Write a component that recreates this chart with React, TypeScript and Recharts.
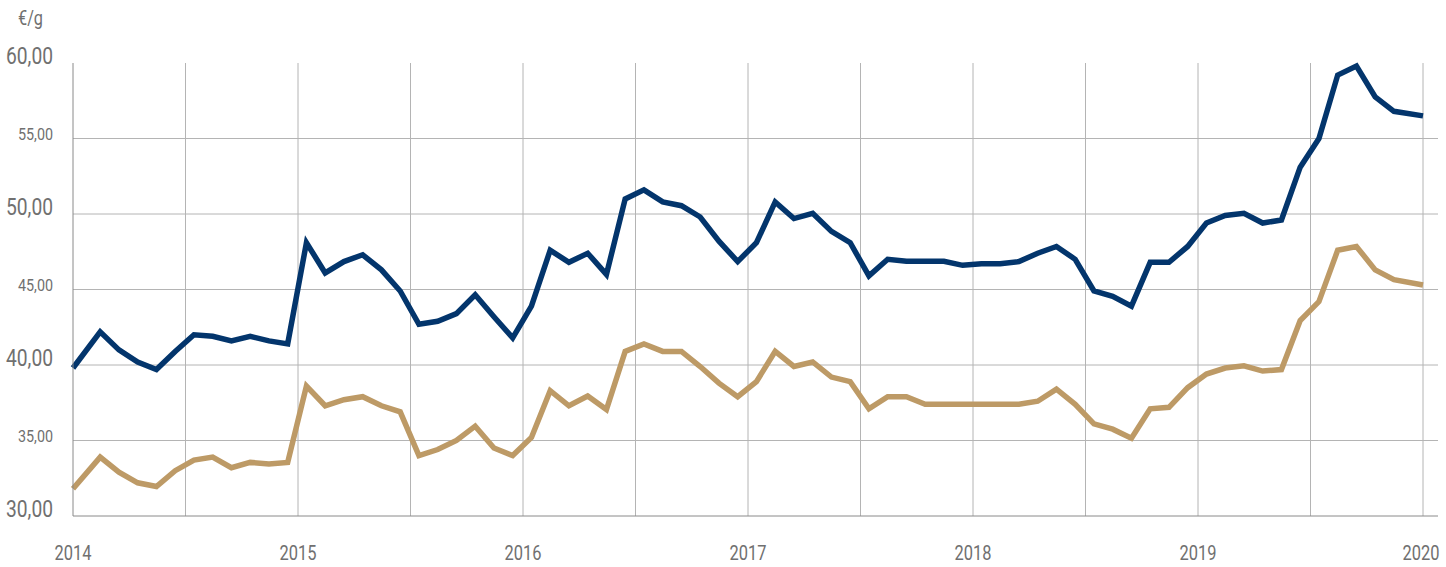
import { LineChart, Line, XAxis, YAxis, CartesianGrid } from "recharts";

// monthly prices, Jan 2014 .. Dec 2019 (€/g)
const blueValues = [
  39.8, 42.2, 41.0, 40.2, 39.7, 40.9, 42.0, 41.9, 41.6, 41.9, 41.6, 41.4,
  48.1, 46.1, 46.85, 47.3, 46.3, 44.9, 42.7, 42.9, 43.4, 44.65, 43.2, 41.8,
  43.9, 47.6, 46.8, 47.4, 46.0, 51.0, 51.6, 50.8, 50.55, 49.8, 48.2, 46.85,
  48.1, 50.8, 49.7, 50.05, 48.85, 48.1, 45.9, 47.0, 46.87, 46.87, 46.87, 46.6,
  46.7, 46.7, 46.85, 47.4, 47.85, 47.0, 44.9, 44.55, 43.9, 46.8, 46.8, 47.85,
  49.4, 49.9, 50.05, 49.4, 49.6, 53.1, 55.0, 59.2, 59.8, 57.75, 56.8, 56.5,
];

const goldValues = [
  31.8, 33.9, 32.9, 32.2, 31.95, 33.0, 33.7, 33.9, 33.2, 33.55, 33.45, 33.55,
  38.6, 37.3, 37.7, 37.9, 37.3, 36.9, 34.0, 34.4, 35.0, 35.95, 34.5, 34.0,
  35.2, 38.3, 37.3, 37.95, 37.05, 40.9, 41.4, 40.9, 40.9, 39.9, 38.8, 37.9,
  38.9, 40.9, 39.9, 40.2, 39.2, 38.9, 37.1, 37.9, 37.9, 37.4, 37.4, 37.4,
  37.4, 37.4, 37.4, 37.6, 38.4, 37.4, 36.1, 35.75, 35.15, 37.1, 37.2, 38.5,
  39.4, 39.8, 39.95, 39.6, 39.7, 42.95, 44.2, 47.6, 47.85, 46.3, 45.65, 45.3,
];

const yearLabels = ["2014", "2015", "2016", "2017", "2018", "2019", "2020"];
const yTicks = [30, 35, 40, 45, 50, 55, 60];
const xTicks = [0, 6, 12, 18, 24, 30, 36, 42, 48, 54, 60, 66, 72];

// first point sits on the axis start, last on the 2020 line, the rest mid-month
const monthPos = (i: number) => (i === 0 ? 0 : i === blueValues.length - 1 ? 72 : i + 0.45);

const data = blueValues.map((b, i) => ({ x: monthPos(i), blue: b, gold: goldValues[i] }));

const FONT = "Roboto, 'DejaVu Sans', sans-serif";
const TEXT = "#707070";

// the original uses a condensed face, so squeeze Roboto to the measured widths
const YTick = ({ y, payload }: any) => {
  const big = payload.value % 10 === 0;
  return (
    <text
      x={53}
      y={y}
      dy={1}
      textAnchor="end"
      fontSize={big ? 24 : 16}
      textLength={big ? 47 : 35}
      lengthAdjust="spacingAndGlyphs"
      fill={TEXT}
      fontFamily={FONT}
    >
      {payload.value.toFixed(2).replace(".", ",")}
    </text>
  );
};

const XTick = ({ x, y, payload }: any) => {
  if (payload.value % 12 !== 0) return null;
  const last = payload.value === 72;
  return (
    <text
      x={last ? x - 2 : x}
      y={y}
      dy={44}
      textAnchor="middle"
      fontSize={21}
      textLength={37}
      lengthAdjust="spacingAndGlyphs"
      fill={TEXT}
      fontFamily={FONT}
    >
      {yearLabels[payload.value / 12]}
    </text>
  );
};

const App = () => (
  <div style={{ position: "absolute", left: 0, top: 0, width: 1446, height: 567, background: "#fff" }}>
    <svg style={{ position: "absolute", left: 0, top: 0 }} width={80} height={40}>
      <text x={18} y={25} fontSize={20} textLength={25} lengthAdjust="spacingAndGlyphs" fill={TEXT} fontFamily={FONT}>
        €/g
      </text>
    </svg>
    <LineChart width={1446} height={567} data={data} margin={{ top: 63, right: 8, bottom: 0, left: 0 }}>
      <CartesianGrid
        stroke="#b4b4b4"
        horizontalValues={[35, 40, 45, 50, 55]}
        verticalValues={[6, 12, 18, 24, 30, 36, 42, 48, 54, 60, 66, 72]}
      />
      <XAxis
        dataKey="x"
        type="number"
        domain={[0, 72.8]}
        ticks={xTicks}
        tick={<XTick />}
        tickLine={false}
        tickSize={0}
        tickMargin={0}
        height={51}
        axisLine={{ stroke: "#8a8a8a" }}
        interval={0}
      />
      <YAxis
        type="number"
        domain={[30, 60]}
        ticks={yTicks}
        tick={<YTick />}
        tickLine={false}
        tickSize={0}
        width={73}
        axisLine={{ stroke: "#8a8a8a" }}
        interval={0}
      />
      <Line dataKey="blue" stroke="#03356c" strokeWidth={5.5} dot={false} isAnimationActive={false} type="linear" />
      <Line dataKey="gold" stroke="#bd9a66" strokeWidth={5.5} dot={false} isAnimationActive={false} type="linear" />
    </LineChart>
  </div>
);

export default App;
